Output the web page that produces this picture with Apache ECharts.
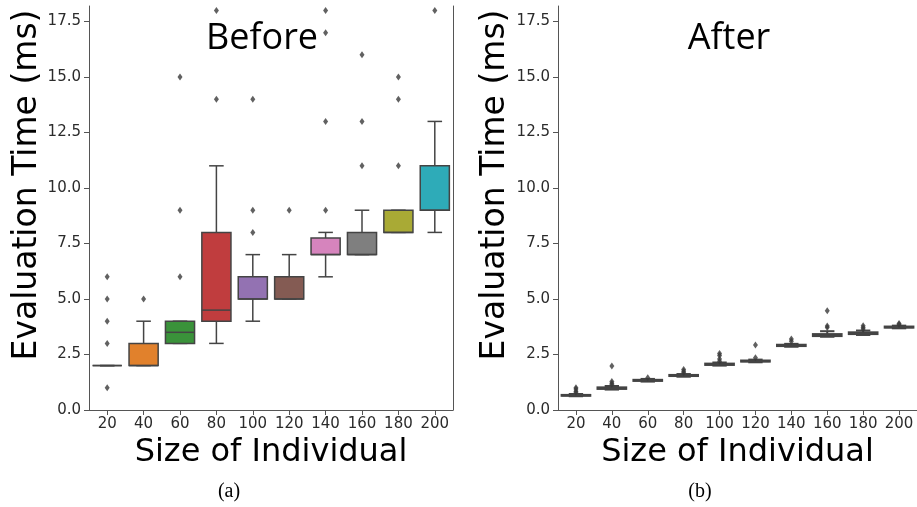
<!DOCTYPE html>
<html>
<head>
<meta charset="utf-8">
<script src="https://cdn.jsdelivr.net/npm/echarts@6/dist/echarts.min.js"></script>
<style>html,body{margin:0;padding:0;background:#fff;}#chart{width:917px;height:507px;}</style>
</head>
<body>
<div id="chart"></div>
<script>
const categories = ['20','40','60','80','100','120','140','160','180','200'];
const yTicks = [0, 2.5, 5, 7.5, 10, 12.5, 15, 17.5];
// [min, Q1, median, Q3, max]
const beforeStats = [
  [2,2,2,2,2],[2,2,2,3,4],[3,3,3.5,4,4],[3,4,4.5,8,11],[4,5,5,6,7],
  [5,5,5,6,7],[6,7,7,7.75,8],[7,7,7,8,9],[8,8,8,9,9],[8,9,9,11,13]
];
const beforeOutliers = [
  [6,5,4,3,1],[5],[6,9,15],[14,18],[8,9,14],[9],[9,13,17,18],[11,13,16],[11,14,15],[18]
];
const afterStats = [
  [0.62,0.64,0.66,0.68,0.72],[0.92,0.95,0.98,1.02,1.08],[1.28,1.31,1.34,1.36,1.40],
  [1.50,1.53,1.56,1.58,1.62],[2.00,2.03,2.06,2.09,2.14],[2.15,2.18,2.20,2.23,2.27],
  [2.85,2.88,2.91,2.94,2.98],[3.30,3.33,3.36,3.42,3.55],[3.38,3.42,3.45,3.50,3.58],
  [3.68,3.71,3.73,3.76,3.80]
];
const afterOutliers = [
  [0.80,0.85,0.95,1.00],[1.15,1.20,1.28,1.98],[1.45],[1.68,1.75,1.82],[2.20,2.30,2.45,2.55],
  [2.35,2.93],[3.10,3.20],[3.72,3.78,4.47],[3.65,3.72,3.80],[3.85,3.90]
];
const palette = ['#3274A1','#E1812C','#3A923A','#C03D3E','#9372B2','#845B53','#D684BD','#7F7F7F','#A9AA35','#2EABB8'];

const lineCol = '#444';
const tickFont = {fontFamily:'DejaVu Sans', fontSize:15, color:'#2b2b2b'};

function makeRender(lw) {
  return function (params, api) {
    const i = api.value(0);
    const mn = api.value(1), q1 = api.value(2), md = api.value(3), q3 = api.value(4), mx = api.value(5);
    const band = api.size([1, 0])[0];
    const bw = band * 0.8;
    const cx = api.coord([i, md])[0];
    const y = v => api.coord([i, v])[1];
    const st = {stroke: lineCol, lineWidth: lw};
    const children = [
      {type:'line', shape:{x1:cx, y1:y(mn), x2:cx, y2:y(q1)}, style:st},
      {type:'line', shape:{x1:cx, y1:y(q3), x2:cx, y2:y(mx)}, style:st},
      {type:'line', shape:{x1:cx-bw/4, y1:y(mn), x2:cx+bw/4, y2:y(mn)}, style:st},
      {type:'line', shape:{x1:cx-bw/4, y1:y(mx), x2:cx+bw/4, y2:y(mx)}, style:st},
      {type:'rect', shape:{x:cx-bw/2, y:y(q3), width:bw, height:Math.max(0, y(q1)-y(q3))},
        style:{fill: palette[i], stroke: lineCol, lineWidth: lw}},
      {type:'line', shape:{x1:cx-bw/2, y1:y(md), x2:cx+bw/2, y2:y(md)}, style:st}
    ];
    return {type:'group', children};
  };
}

function boxData(stats) { return stats.map((s, i) => [i].concat(s)); }
function outData(outs) {
  const d = [];
  outs.forEach((arr, i) => arr.forEach(v => d.push([i, v])));
  return d;
}

function xAxisFor(gi) {
  return {
    type:'category', gridIndex:gi, data:categories, boundaryGap:true,
    name:'Size of Individual', nameLocation:'middle', nameGap:20,
    nameTextStyle:{fontFamily:'DejaVu Sans', fontSize:32, color:'#000'},
    axisLine:{show:true, lineStyle:{color:'#555', width:1}},
    axisTick:{show:true, alignWithLabel:true, length:5, lineStyle:{color:'#555'}},
    axisLabel:Object.assign({margin:7, interval:0}, tickFont),
    splitLine:{show:false}
  };
}
function yAxisFor(gi) {
  return {
    type:'value', gridIndex:gi, min:0, max:18.2,
    axisLine:{show:true, lineStyle:{color:'#555', width:1}},
    axisTick:{show:true, length:5, customValues:yTicks, lineStyle:{color:'#555'}},
    axisLabel:Object.assign({margin:8, customValues:yTicks, formatter: v => Number(v).toFixed(1)}, tickFont),
    splitLine:{show:false}
  };
}

const chart = echarts.init(document.getElementById('chart'), null, {renderer:'canvas'});
const yNameStyle = {text:'Evaluation Time (ms)', fontFamily:'DejaVu Sans', fontSize:33, fill:'#000', textAlign:'center', textVerticalAlign:'middle'};
const option = {
  animation:false,
  backgroundColor:'#fff',
  grid:[
    {left:89, top:6, width:364, bottom:97},
    {left:558, top:6, width:359, bottom:97}
  ],
  xAxis:[xAxisFor(0), xAxisFor(1)],
  yAxis:[
    yAxisFor(0), yAxisFor(1),
    {type:'value', gridIndex:0, position:'right', min:0, max:18.2,
     axisLine:{show:true, lineStyle:{color:'#555', width:1}},
     axisTick:{show:false}, axisLabel:{show:false}, splitLine:{show:false}}
  ],
  series:[
    {type:'custom', xAxisIndex:0, yAxisIndex:0, renderItem:makeRender(1.5),
     encode:{x:0, y:[1,2,3,4,5]}, data:boxData(beforeStats), z:2},
    {type:'scatter', xAxisIndex:0, yAxisIndex:0, data:outData(beforeOutliers),
     symbol:'diamond', symbolSize:[5,7], itemStyle:{color:'#3a3a3a'}, z:3},
    {type:'custom', xAxisIndex:1, yAxisIndex:1, renderItem:makeRender(2),
     encode:{x:0, y:[1,2,3,4,5]}, data:boxData(afterStats), z:2},
    {type:'scatter', xAxisIndex:1, yAxisIndex:1, data:outData(afterOutliers),
     symbol:'diamond', symbolSize:[5,7], itemStyle:{color:'#3a3a3a'}, z:3}
  ],
  graphic:[
    {type:'text', x:27, y:185, rotation:Math.PI/2, style:yNameStyle},
    {type:'text', x:495, y:185, rotation:Math.PI/2, style:yNameStyle},
    {type:'text', x:262, y:39, style:{text:'Before', fontFamily:'Open Sans', fontSize:36, fill:'#000', textAlign:'center', textVerticalAlign:'middle'}},
    {type:'text', x:729, y:39, style:{text:'After', fontFamily:'Open Sans', fontSize:36, fill:'#000', textAlign:'center', textVerticalAlign:'middle'}},
    {type:'text', x:229, y:492, style:{text:'(a)', fontFamily:'Liberation Serif', fontSize:20, fill:'#000', textAlign:'center', textVerticalAlign:'middle'}},
    {type:'text', x:700, y:492, style:{text:'(b)', fontFamily:'Liberation Serif', fontSize:20, fill:'#000', textAlign:'center', textVerticalAlign:'middle'}}
  ]
};
chart.setOption(option);
</script>
</body>
</html>
